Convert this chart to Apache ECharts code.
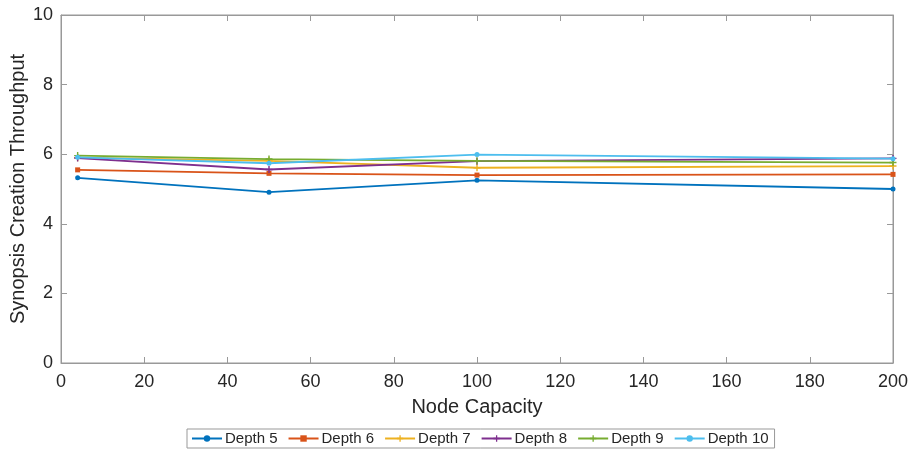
<!DOCTYPE html>
<html><head><meta charset="utf-8">
<script src="https://cdn.jsdelivr.net/npm/echarts@6/dist/echarts.min.js"></script>
<style>html,body{margin:0;padding:0;background:#fff}#c{width:912px;height:452px}</style>
</head><body><div id="c"></div>
<script>
const xValues = [4, 50, 100, 200];
const seriesNames = ['Depth 5','Depth 6','Depth 7','Depth 8','Depth 9','Depth 10'];
const depth5 = [5.32, 4.91, 5.25, 5.00];
const depth6 = [5.55, 5.45, 5.40, 5.42];
const depth7 = [5.90, 5.81, 5.61, 5.66];
const depth8 = [5.89, 5.56, 5.80, 5.88];
const depth9 = [5.96, 5.86, 5.81, 5.76];
const depth10 = [5.91, 5.74, 5.99, 5.87];
const colors = ['#0072BD','#D95319','#EDB120','#7E2F8E','#77AC30','#4DBEEE'];
const plus = 'path://M4,0 L6,0 L6,4 L10,4 L10,6 L6,6 L6,10 L4,10 L4,6 L0,6 L0,4 L4,4 Z';
const symbols = ['circle','rect',plus,plus,plus,'circle'];
const allData = [depth5, depth6, depth7, depth8, depth9, depth10];
const font = 'Liberation Sans, Arial, sans-serif';
const axisColor = '#999999';
const textColor = '#262626';
const chart = echarts.init(document.getElementById('c'));
function axis(extra){
  return Object.assign({
    axisLine:{show:true,onZero:false,lineStyle:{color:axisColor,width:1}},
    axisTick:{show:true,inside:true,length:6,lineStyle:{color:axisColor}},
    splitLine:{show:false},
    axisLabel:{color:textColor,fontSize:18,fontFamily:font,margin:8}
  }, extra);
}
const series = seriesNames.map((n,i)=>({
  name:n, type:'line',
  data: xValues.map((x,j)=>[x, allData[i][j]]),
  symbol: symbols[i], symbolSize: (i===0||i===1||i===5)?5:7,
  showSymbol:true,
  lineStyle:{width:1.8,color:colors[i]},
  itemStyle:{color:colors[i]},
  z: 2+i
}));
series.push({name:'_box',type:'line',xAxisIndex:1,yAxisIndex:1,data:[],symbol:'none'});
chart.setOption({
  animation:false,
  color: colors,
  grid:{left:61,right:19,top:15,bottom:89,containLabel:false,outerBoundsMode:'none',show:true,borderColor:axisColor,borderWidth:1},
  legend:{
    bottom:4, left:187,
    data: seriesNames,
    borderColor:'#999999', borderWidth:1, borderRadius:0,
    padding:[2,6,2,4], itemGap:10, itemWidth:30, itemHeight:8,
    textStyle:{color:textColor,fontSize:15,fontFamily:font, padding:[0,0,0,-2]}
  },
  xAxis:[
    axis({type:'value',min:0,max:200,interval:20,
      name:'Node Capacity',nameLocation:'middle',nameGap:34,nameMoveOverlap:false,
      nameTextStyle:{color:textColor,fontSize:20,fontFamily:font},
      axisLabel:{color:textColor,fontSize:18,fontFamily:font,margin:10}}),
    axis({type:'value',min:0,max:200,interval:20,position:'top',axisLabel:{show:false}})
  ],
  yAxis:[
    axis({type:'value',min:0,max:10,interval:2,
      name:'Synopsis Creation Throughput',nameLocation:'middle',nameGap:33,nameMoveOverlap:false,
      nameTextStyle:{color:textColor,fontSize:20,fontFamily:font}}),
    axis({type:'value',min:0,max:10,interval:2,position:'right',axisLabel:{show:false}})
  ],
  series: series
});
</script></body></html>
